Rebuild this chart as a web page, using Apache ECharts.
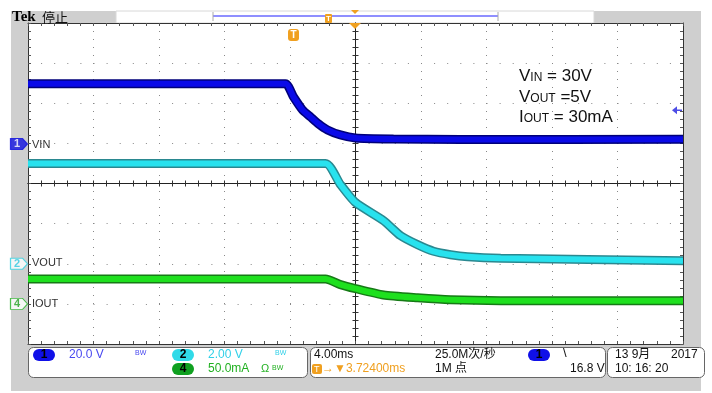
<!DOCTYPE html>
<html>
<head>
<meta charset="utf-8">
<script src="https://cdn.jsdelivr.net/npm/echarts@6/dist/echarts.min.js"></script>
<style>
  html, body { margin: 0; padding: 0; background: #fff; }
  #scope { width: 712px; height: 393px; }
</style>
</head>
<body>
<div id="scope"></div>
<script>
// time in ms (4 ms/div), trigger at 0
const vinTime = [-20, -4.28, -3.79, -3.24, -2.75, -2.26, -1.71, -0.92, 0, 2.32, 6.42, 20];
const vinVolts = [30, 30, 23.5, 17, 13.5, 10, 7, 4.5, 3, 2.5, 2.2, 2.3];

const voutTime = [-20, -1.83, -0.92, 0, 1.71, 2.75, 3.79, 4.77, 5.81, 6.85, 8.87, 20];
const voutVolts = [5.0, 5.0, 3.95, 3.05, 2.15, 1.4, 0.95, 0.62, 0.45, 0.35, 0.28, 0.15];

const ioutTime = [-20, -1.83, -0.92, 0, 1.71, 3.79, 5.81, 8.87, 20];
const ioutMilliamps = [31, 31, 24, 19, 11, 7.5, 5, 4, 4];

const trigLevel = 16.8;

const pair = (t, v) => t.map((x, i) => [x, v[i]]);

const FONT = "'Liberation Sans', 'Noto Sans CJK SC', sans-serif";

const borderAxis = (pos) => ({
  type: 'value', min: -20, max: 20, interval: 4, position: pos,
  axisLine: { show: true, onZero: false, lineStyle: { color: '#333', width: 1 } },
  axisTick: { show: true, inside: true, length: 3, lineStyle: { color: '#555' } },
  minorTick: { show: true, splitNumber: 5, length: 3, lineStyle: { color: '#555' } },
  axisLabel: { show: false },
  splitLine: { show: pos === 'bottom', lineStyle: { color: '#888', type: [1, 7] } }
});
const centerX = (inside) => ({
  type: 'value', min: -20, max: 20, interval: 4, position: 'bottom',
  axisLine: { show: true, onZero: true, onZeroAxisIndex: 0, lineStyle: { color: '#222', width: 1 } },
  axisTick: { show: true, inside: inside, length: 3, lineStyle: { color: '#333' } },
  minorTick: { show: true, splitNumber: 5, length: 3, lineStyle: { color: '#333' } },
  axisLabel: { show: false }, splitLine: { show: false }
});
const borderY = (pos) => ({
  type: 'value', min: -4, max: 4, interval: 1, position: pos,
  axisLine: { show: true, onZero: false, lineStyle: { color: '#333', width: 1 } },
  axisTick: { show: true, inside: true, length: 3, lineStyle: { color: '#555' } },
  minorTick: { show: true, splitNumber: 5, length: 3, lineStyle: { color: '#555' } },
  axisLabel: { show: false },
  splitLine: { show: pos === 'left', lineStyle: { color: '#888', type: [1, 12.1] } }
});
const centerY = (inside) => ({
  type: 'value', min: -4, max: 4, interval: 1, position: 'left',
  axisLine: { show: true, onZero: true, onZeroAxisIndex: 0, lineStyle: { color: '#222', width: 1 } },
  axisTick: { show: true, inside: inside, length: 3, lineStyle: { color: '#333' } },
  minorTick: { show: true, splitNumber: 5, length: 3, lineStyle: { color: '#333' } },
  axisLabel: { show: false }, splitLine: { show: false }
});
const hiddenY = (min, max) => ({ type: 'value', min: min, max: max, show: false, splitLine: { show: false } });

const trace = (name, data, yIdx, dark, bright, w) => ([
  { name: name + '-edge', type: 'line', xAxisIndex: 0, yAxisIndex: yIdx, data: data, smooth: 0.2,
    symbol: 'none', lineStyle: { color: dark, width: w + 3 }, z: 3, animation: false },
  { name: name, type: 'line', xAxisIndex: 0, yAxisIndex: yIdx, data: data, smooth: 0.2,
    symbol: 'none', lineStyle: { color: bright, width: w }, z: 4, animation: false }
]);

const marker = (yIdx, label, fill, stroke, textColor) => ({
  type: 'scatter', xAxisIndex: 0, yAxisIndex: yIdx, data: [[-20, 0]], clip: false, z: 10,
  symbol: 'path://M0,0 L12,0 L17,5.5 L12,11 L0,11 Z', symbolSize: [17, 11], symbolOffset: [-9, 0],
  itemStyle: { color: fill, borderColor: stroke, borderWidth: 1 },
  label: { show: true, position: 'inside', offset: [-2, 0], formatter: label, color: textColor,
    fontSize: 11, fontWeight: 'bold', fontFamily: FONT },
  silent: true, animation: false
});

const chart = echarts.init(document.getElementById('scope'), null, { renderer: 'canvas' });

const boxText = (x, y, text, color, size) => ({
  type: 'text', x: x, y: y, z: 20,
  style: { text: text, fill: color, font: (size || 12) + 'px ' + FONT, verticalAlign: 'middle' }
});
const oval = (x, y, label, fill) => ([
  { type: 'rect', z: 20, shape: { x: x, y: y - 6, width: 22, height: 12, r: 6 }, style: { fill: fill } },
  { type: 'text', z: 21, x: x + 11, y: y, style: { text: label, fill: '#000', font: 'bold 12px ' + FONT, align: 'center', verticalAlign: 'middle' } }
]);
const annot = (y, main, sub, rest) => ({
  type: 'text', x: 519, y: y, z: 20,
  style: {
    text: '{a|' + main + '}{b|' + sub + '}{a|' + rest + '}',
    verticalAlign: 'middle',
    rich: {
      a: { fontSize: 17, fontFamily: FONT, fill: '#111', lineHeight: 20, verticalAlign: 'bottom' },
      b: { fontSize: 12, fontFamily: FONT, fill: '#111', lineHeight: 20, verticalAlign: 'bottom', padding: [0, 0, 1, 0] }
    }
  }
});

chart.setOption({
  backgroundColor: '#ffffff',
  animation: false,
  grid: { left: 28, right: 29, top: 23, bottom: 49, show: false },
  xAxis: [borderAxis('bottom'), borderAxis('top'), centerX(true), centerX(false)],
  yAxis: [borderY('left'), borderY('right'), centerY(true), centerY(false),
    hiddenY(-99.7, 60.3),   // CH1 20 V/div
    hiddenY(-4, 12),        // CH2 2 V/div
    hiddenY(-50, 350)],     // CH4 50 mA/div
  series: [
    ...trace('IOUT', pair(ioutTime, ioutMilliamps), 6, '#167a16', '#1ee01e', 6),
    ...trace('VOUT', pair(voutTime, voutVolts), 5, '#2a8890', '#28e2ee', 6),
    ...trace('VIN', pair(vinTime, vinVolts), 4, '#00007a', '#0a0ae8', 6),
    marker(4, '1', '#1010e0', '#1010e0', '#ffffff'),
    marker(5, '2', '#ffffff', '#30d0e0', '#30c8e0'),
    marker(6, '4', '#ffffff', '#20b020', '#20a020'),
    { type: 'scatter', xAxisIndex: 0, yAxisIndex: 4, data: [[20, trigLevel]], z: 10, clip: false,
      symbol: 'path://M0,5 L6,0 L6,4 L12,4 L12,6 L6,6 L6,10 Z', symbolSize: [10, 8], symbolOffset: [-6, 0],
      itemStyle: { color: '#2020e0' }, silent: true, animation: false }
  ],
  graphic: [
    // scope frame
    { type: 'rect', z: 0, shape: { x: 11, y: 11, width: 17, height: 334 }, style: { fill: '#cfcfcf' } },
    { type: 'rect', z: 0, shape: { x: 683, y: 11, width: 18, height: 334 }, style: { fill: '#cfcfcf' } },
    { type: 'rect', z: 0, shape: { x: 11, y: 345, width: 690, height: 46 }, style: { fill: '#cfcfcf' } },
    { type: 'rect', z: 0, shape: { x: 11, y: 11, width: 105, height: 12 }, style: { fill: '#cfcfcf' } },
    { type: 'rect', z: 0, shape: { x: 594, y: 11, width: 107, height: 12 }, style: { fill: '#cfcfcf' } },
    { type: 'rect', z: 0, shape: { x: 116, y: 11, width: 478, height: 12 }, style: { fill: '#fff', stroke: '#d8d8d8', lineWidth: 1 } },
    { type: 'line', z: 1, shape: { x1: 213, y1: 16, x2: 498, y2: 16 }, style: { stroke: '#6a6aff', lineWidth: 1.5 } },
    { type: 'line', z: 1, shape: { x1: 213, y1: 12, x2: 213, y2: 21 }, style: { stroke: '#aaa', lineWidth: 1 } },
    { type: 'line', z: 1, shape: { x1: 498, y1: 12, x2: 498, y2: 21 }, style: { stroke: '#aaa', lineWidth: 1 } },
    { type: 'rect', z: 2, shape: { x: 325, y: 14, width: 7, height: 9, r: 1 }, style: { fill: '#f0a020' } },
    { type: 'text', z: 3, x: 328.5, y: 18.5, style: { text: 'T', fill: '#fff', font: 'bold 8px ' + FONT, align: 'center', verticalAlign: 'middle' } },
    { type: 'polygon', z: 2, shape: { points: [[351, 10], [359, 10], [355, 14]] }, style: { fill: '#f0a020' } },
    { type: 'text', z: 3, x: 12, y: 17, style: { text: 'Tek', fill: '#000', font: 'bold 15px "Liberation Serif", serif', verticalAlign: 'middle' } },
    { type: 'text', z: 3, x: 42, y: 17, style: { text: '停止', fill: '#111', font: '13px "Noto Sans CJK SC", sans-serif', verticalAlign: 'middle' } },
    // trigger markers on the graticule
    { type: 'polygon', z: 12, shape: { points: [[349, 23], [361, 23], [355, 29]] }, style: { fill: '#f0a020' } },
    { type: 'rect', z: 12, shape: { x: 288, y: 29, width: 11, height: 12, r: 3 }, style: { fill: '#f0a020' } },
    { type: 'text', z: 13, x: 293.5, y: 35, style: { text: 'T', fill: '#fff', font: 'bold 10px ' + FONT, align: 'center', verticalAlign: 'middle' } },
    // channel names
    { type: 'text', z: 12, x: 32, y: 145, style: { text: 'VIN', fill: '#333', font: '11px ' + FONT, verticalAlign: 'middle' } },
    { type: 'text', z: 12, x: 32, y: 263, style: { text: 'VOUT', fill: '#333', font: '11px ' + FONT, verticalAlign: 'middle' } },
    { type: 'text', z: 12, x: 32, y: 304, style: { text: 'IOUT', fill: '#333', font: '11px ' + FONT, verticalAlign: 'middle' } },
    // annotation
    annot(75, 'V', 'IN', ' = 30V'),
    annot(96, 'V', 'OUT', ' =5V'),
    annot(116, 'I', 'OUT', ' = 30mA'),
    // readout boxes
    { type: 'rect', z: 15, shape: { x: 28.5, y: 347.5, width: 279, height: 30, r: 5 }, style: { fill: '#fff', stroke: '#666', lineWidth: 1 } },
    { type: 'rect', z: 15, shape: { x: 310.5, y: 347.5, width: 295, height: 30, r: 5 }, style: { fill: '#fff', stroke: '#666', lineWidth: 1 } },
    { type: 'rect', z: 15, shape: { x: 607.5, y: 347.5, width: 97, height: 30, r: 5 }, style: { fill: '#fff', stroke: '#666', lineWidth: 1 } },
    ...oval(33, 355, '1', '#1010e8'),
    boxText(69, 355, '20.0 V', '#4848f0'),
    boxText(135, 353, 'BW', '#4848f0', 7),
    ...oval(172, 355, '2', '#30dae8'),
    boxText(208, 355, '2.00 V', '#30d0e8'),
    boxText(275, 353, 'BW', '#30d0e8', 7),
    ...oval(172, 369, '4', '#10a020'),
    boxText(208, 369, '50.0mA', '#20b020'),
    boxText(261, 369, 'Ω', '#20b020', 11),
    boxText(272, 368, 'BW', '#20b020', 7),
    boxText(314, 355, '4.00ms', '#111'),
    { type: 'rect', z: 20, shape: { x: 312, y: 364, width: 10, height: 10, r: 2 }, style: { fill: '#f0a020' } },
    boxText(314, 369.5, 'T', '#fff', 9),
    boxText(322, 369, '→▼3.72400ms', '#f0a020'),
    boxText(435, 355, '25.0M次/秒', '#111'),
    boxText(435, 369, '1M 点', '#111'),
    ...oval(528, 355, '1', '#1010e8'),
    boxText(563, 353, '\\', '#111', 13),
    boxText(570, 369, '16.8 V', '#111'),
    boxText(615, 355, '13 9月', '#111'),
    boxText(671, 355, '2017', '#111'),
    boxText(615, 369, '10: 16: 20', '#111')
  ]
});
</script>
</body>
</html>
